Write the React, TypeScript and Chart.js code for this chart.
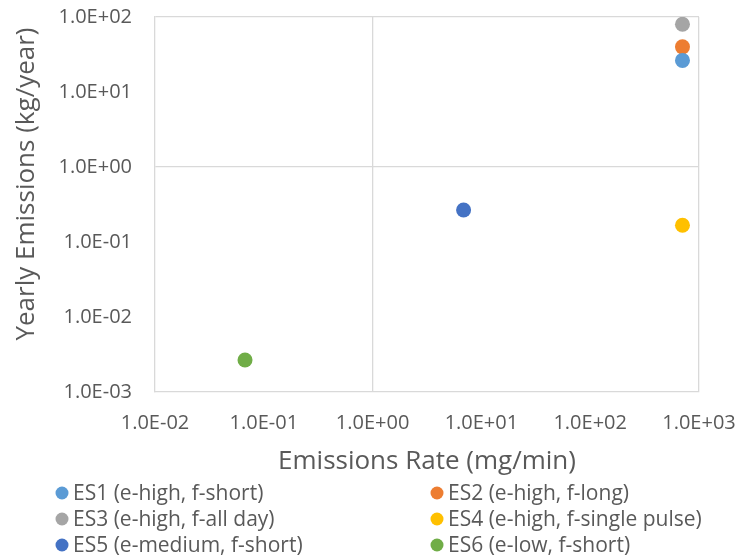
import React, { useEffect, useRef } from "react";
import { Chart, registerables } from "chart.js";

Chart.register(...registerables);

const seriesNames = [
  "ES1 (e-high, f-short)",
  "ES2 (e-high, f-long)",
  "ES3 (e-high, f-all day)",
  "ES4 (e-high, f-single pulse)",
  "ES5 (e-medium, f-short)",
  "ES6 (e-low, f-short)",
];
const seriesColors = ["#5B9BD5", "#ED7D31", "#A5A5A5", "#FFC000", "#4472C4", "#70AD47"];
const emissionRates = [705, 705, 705, 705, 6.86, 0.0672];
const yearlyEmissions = [26.4, 40, 80, 0.167, 0.267, 0.00267];

const xTickValues = [0.01, 0.1, 1, 10, 100, 1000];
const xTickLabels = ["1.0E-02", "1.0E-01", "1.0E+00", "1.0E+01", "1.0E+02", "1.0E+03"];
const yTickValues = [0.001, 0.01, 0.1, 1, 10, 100];
const yTickLabels = ["1.0E-03", "1.0E-02", "1.0E-01", "1.0E+00", "1.0E+01", "1.0E+02"];
const xTitle = "Emissions Rate (mg/min)";
const yTitle = "Yearly Emissions (kg/year)";

const FONT = "'Open Sans', Lato, sans-serif";
const TEXT = "#595959";
const GRID = "#D9D9D9";

const legendPlugin = {
  id: "twoColLegend",
  afterDraw(chart: any) {
    const ctx = chart.ctx;
    ctx.save();
    // y axis title (placed like the original, slightly above plot centre)
    ctx.save();
    ctx.translate(27, 184);
    ctx.rotate(-Math.PI / 2);
    ctx.font = `26px ${FONT}`;
    ctx.fillStyle = TEXT;
    ctx.textAlign = "center";
    ctx.textBaseline = "middle";
    ctx.fillText(yTitle, 0, 0);
    ctx.restore();

    ctx.font = `21px ${FONT}`;
    ctx.textBaseline = "middle";
    ctx.textAlign = "left";
    chart.data.datasets.forEach((ds: any, i: number) => {
      const col = i % 2;
      const row = Math.floor(i / 2);
      const cx = col === 0 ? 62 : 437;
      const cy = 493 + row * 26;
      ctx.beginPath();
      ctx.arc(cx, cy, 6.5, 0, Math.PI * 2);
      ctx.fillStyle = ds.backgroundColor;
      ctx.fill();
      ctx.fillStyle = TEXT;
      ctx.fillText(ds.label, cx + 11, cy + 1);
    });
    ctx.restore();
  },
};

export default function App() {
  const ref = useRef<HTMLCanvasElement | null>(null);
  useEffect(() => {
    document.body.style.margin = "0";
    const canvas = ref.current;
    if (!canvas) return;
    const datasets = seriesNames.map((name, i) => ({
      label: name,
      data: [{ x: emissionRates[i], y: yearlyEmissions[i] }],
      backgroundColor: seriesColors[i],
      borderColor: seriesColors[i],
      pointRadius: 7.5,
      pointHoverRadius: 7.5,
      pointBorderWidth: 0,
    }));
    const chart = new Chart(canvas, {
      type: "scatter",
      data: { datasets },
      plugins: [legendPlugin],
      options: {
        animation: false,
        responsive: false,
        maintainAspectRatio: false,
        layout: { padding: { left: 0, right: 39, top: 17, bottom: 83 } },
        plugins: { legend: { display: false }, tooltip: { enabled: false } },
        scales: {
          x: {
            type: "logarithmic",
            min: 0.01,
            max: 1000,
            afterBuildTicks: (s: any) => {
              s.ticks = xTickValues.map((v) => ({ value: v }));
            },
            afterFit: (s: any) => {
              s.height = 84;
              s.paddingLeft = 0;
              s.paddingRight = 0;
            },
            ticks: {
              autoSkip: false,
              maxRotation: 0,
              padding: 19,
              color: TEXT,
              font: { family: FONT, size: 20 },
              callback: (_v: any, i: number) => xTickLabels[i],
            },
            grid: {
              drawTicks: false,
              color: (c: any) => (c.index === 2 || c.index === 5 ? GRID : "rgba(0,0,0,0)"),
              lineWidth: 1.3,
            },
            border: { display: true, color: GRID, width: 1.3 },
            title: {
              display: true,
              text: xTitle,
              color: TEXT,
              font: { family: FONT, size: 26 },
              padding: { top: 0, bottom: -1 },
            },
          },
          y: {
            type: "logarithmic",
            min: 0.001,
            max: 100,
            afterBuildTicks: (s: any) => {
              s.ticks = yTickValues.map((v) => ({ value: v }));
            },
            afterFit: (s: any) => {
              s.width = 155;
              s.paddingTop = 0;
              s.paddingBottom = 0;
            },
            ticks: {
              autoSkip: false,
              padding: 23,
              color: TEXT,
              font: { family: FONT, size: 20 },
              callback: (_v: any, i: number) => yTickLabels[i],
            },
            grid: {
              drawTicks: false,
              color: (c: any) => (c.index === 3 || c.index === 5 ? GRID : "rgba(0,0,0,0)"),
              lineWidth: 1.3,
            },
            border: { display: true, color: GRID, width: 1.3 },
            title: { display: false },
          },
        },
      },
    });
    return () => chart.destroy();
  }, []);
  return (
    <div style={{ width: 738, height: 559, background: "#fff" }}>
      <canvas ref={ref} width={738} height={559} style={{ display: "block" }} />
    </div>
  );
}
